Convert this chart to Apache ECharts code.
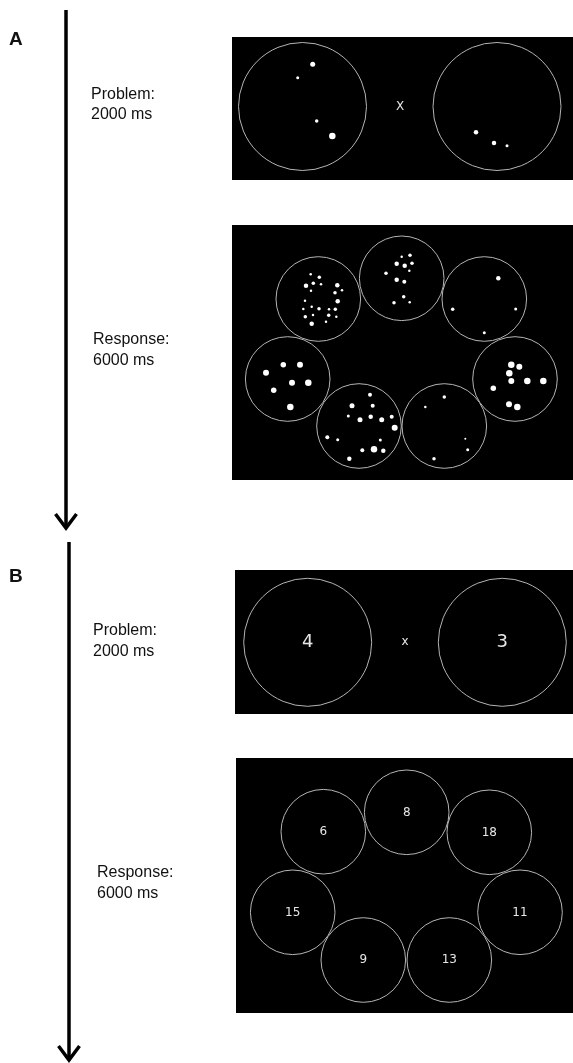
<!DOCTYPE html>
<html><head><meta charset="utf-8">
<script src="https://cdn.jsdelivr.net/npm/echarts@6/dist/echarts.min.js"></script>
<style>html,body{margin:0;padding:0;background:#fff}#c{width:573px;height:1063px}</style>
</head><body><div id="c"></div>
<script>
// ---- data (diagram units = page pixels) ----
const panels = [[232,37,573,180],[232,225,573,480],[235,570,573,714],[236,758,573,1013]];
// circles: [cx, cy, r]
const circlesA1 = [[302.5,106.5,64],[497,106.5,64]];
const circlesA2 = [[318.3,299,42.3],[401.7,278.3,42.3],[484.3,299,42.3],[287.7,379,42.3],[515,379,42.3],[359,426,42.3],[444.3,426,42.3]];
const circlesB1 = [[307.7,642.3,64],[502.3,642.3,64]];
const circlesB2 = [[323.3,831.7,42.3],[406.7,812.3,42.3],[489.3,832.3,42.3],[292.7,912.3,42.3],[520,912.3,42.3],[363.3,960,42.3],[449.3,960,42.3]];
// dots: [x, y, diameter]
const dotsA1 = [[312.7,64.3,5],[297.7,77.7,3],[316.7,121,3.5],[332.3,136,6.5],[476,132.3,4.5],[494,143,4.5],[507,145.7,3]];
const dotsA2 = [
 [310.7,274.3,2.5],[319.3,277.3,3.5],[306,285.7,4.5],[313.3,283.3,3.5],[321,284.3,2.5],[337.3,285.3,4.5],[311,290.7,2.5],[335,292.7,3.5],[342,290.3,2.5],[305,300.7,2.5],[337.7,301.3,4.5],[311.7,306.7,2.5],[319,308.7,3.5],[303.3,309,2.5],[329,309.3,2.5],[335.3,309.3,3.5],[305.3,316.7,3.5],[313,315,2.5],[328.7,315.3,3.5],[336.3,316.7,2.5],[326,321.7,2.5],[311.7,323.7,4.5],
 [401.7,256.7,2.5],[410,255.3,3.5],[396.7,263.7,4.5],[404.7,265.7,4.5],[412,263.3,3.5],[409.3,270.7,2.5],[386,273.3,3.5],[396.7,279.7,4.5],[404.3,281.7,4],[403.7,296.7,3.5],[394,302.7,3.5],[409.7,302.3,2.5],
 [498.3,278.3,4.5],[452.7,309.3,3.5],[515.7,309,3],[484.3,332.7,3],
 [283.3,364.7,5.5],[300,364.7,6],[266,372.7,6],[292,382.7,6],[308.3,382.7,6.5],[273.7,390.3,5.5],[290.3,407,6.5],
 [511.3,364.7,6.5],[519.3,366.7,6],[509.3,373.3,6.5],[511.3,381,6],[527.3,381,6.5],[543.3,381,6.5],[493.3,388.3,5.5],[509,404.3,6],[517.3,407,6.5],
 [370,394.7,4],[352,405.7,5],[372.7,405.7,4],[348.3,416,3],[360,419.7,5],[370.7,416.7,4.5],[381.7,419.7,5],[391.7,416.7,4],[394.7,427.7,6],[327.3,437.3,4],[337.7,439.7,3],[380.3,440,3],[362.3,450.3,4],[374,449.3,6.5],[383.3,450.7,4.5],[349.3,458.7,4.5],
 [444.3,397,3.5],[425.3,407,2.5],[465.3,438.7,2],[467.7,449.7,3],[434,458.7,3.5]
];
// numerals in B: [x, y, label]
const numbersB1 = [[307.7,642.3,'4'],[502.3,642.3,'3']];
const numbersB2 = [[323.3,832,'6'],[406.7,812.5,'8'],[489.3,832.5,'18'],[292.7,912.5,'15'],[520,912.5,'11'],[363.3,960,'9'],[449.3,960,'13']];
const timesSigns = [[400,107,'X'],[405,642,'x']];
// labels: [x, y, text, bold]
const labels = [[9,40,'A',1],[91,95,'Problem:',0],[91,115,'2000 ms',0],[93,340,'Response:',0],[93,361,'6000 ms',0],
 [9,577,'B',1],[93,631,'Problem:',0],[93,652,'2000 ms',0],[97,873,'Response:',0],[97,894,'6000 ms',0]];
// arrows: [x, yTop, yTip]
const arrows = [[66,10,530],[69,542,1062]];

const chart = echarts.init(document.getElementById('c'), null, {renderer:'canvas'});
function rectItem(params, api){
  const p0 = api.coord([api.value(0), api.value(1)]);
  const p1 = api.coord([api.value(2), api.value(3)]);
  return {type:'rect', shape:{x:p0[0], y:p0[1], width:p1[0]-p0[0], height:p1[1]-p0[1]}, style:{fill:'#000'}};
}
function circleItem(params, api){
  const p = api.coord([api.value(0), api.value(1)]);
  const r = api.size([api.value(2), 0])[0];
  return {type:'circle', shape:{cx:p[0], cy:p[1], r:r}, style:{fill:null, stroke:'#b4b4b4', lineWidth:1}};
}
function dotItem(params, api){
  const p = api.coord([api.value(0), api.value(1)]);
  const r = api.size([api.value(2), 0])[0]/2;
  return {type:'circle', shape:{cx:p[0], cy:p[1], r:r}, style:{fill:'#fff'}};
}
function textSeries(arr, font, color, align){
  return {type:'custom', coordinateSystem:'cartesian2d', clip:false, z:5,
    data: arr.map(d=>[d[0], d[1]]),
    renderItem(params, api){
      const d = arr[params.dataIndex];
      const p = api.coord([d[0], d[1]]);
      return {type:'text', x:p[0], y:p[1], style:{text:d[2], fill:color,
        font:(d[3]?'bold 19px "Liberation Sans", Arial, sans-serif':font), align:align, verticalAlign:'middle'}};
    }};
}
function arrowSeries(){
  return {type:'custom', coordinateSystem:'cartesian2d', clip:false, z:3,
    data: arrows,
    renderItem(params, api){
      const x = api.value(0), y0 = api.value(1), y1 = api.value(2);
      const a = api.coord([x, y0]), b = api.coord([x, y1]);
      const l = api.coord([x-10.5, y1-16]), r = api.coord([x+10.5, y1-16]);
      return {type:'group', children:[
        {type:'line', shape:{x1:a[0], y1:a[1], x2:b[0], y2:b[1]-2}, style:{stroke:'#000', lineWidth:3.5}},
        {type:'polyline', shape:{points:[l, [b[0], b[1]-2], r]}, style:{stroke:'#000', lineWidth:3.5, fill:null, lineJoin:'miter'}}
      ]};
    }};
}
chart.setOption({
  animation:false,
  backgroundColor:'#fff',
  grid:{left:0, right:0, top:0, bottom:0},
  xAxis:{type:'value', min:0, max:573, show:false},
  yAxis:{type:'value', min:0, max:1063, inverse:true, show:false},
  series:[
    {type:'custom', coordinateSystem:'cartesian2d', clip:false, z:1, data:panels, renderItem:rectItem},
    {type:'custom', coordinateSystem:'cartesian2d', clip:false, z:2, data:circlesA1.concat(circlesA2, circlesB1, circlesB2), renderItem:circleItem},
    {type:'custom', coordinateSystem:'cartesian2d', clip:false, z:3, data:dotsA1.concat(dotsA2), renderItem:dotItem},
    textSeries(numbersB1, '18px "DejaVu Sans"', '#e6e6e6', 'center'),
    textSeries(numbersB2, '12px "DejaVu Sans"', '#e6e6e6', 'center'),
    textSeries(timesSigns, '12px "DejaVu Sans"', '#e6e6e6', 'center'),
    textSeries(labels, '16px "Liberation Sans", Arial, sans-serif', '#111', 'left'),
    arrowSeries()
  ]
});
</script></body></html>
